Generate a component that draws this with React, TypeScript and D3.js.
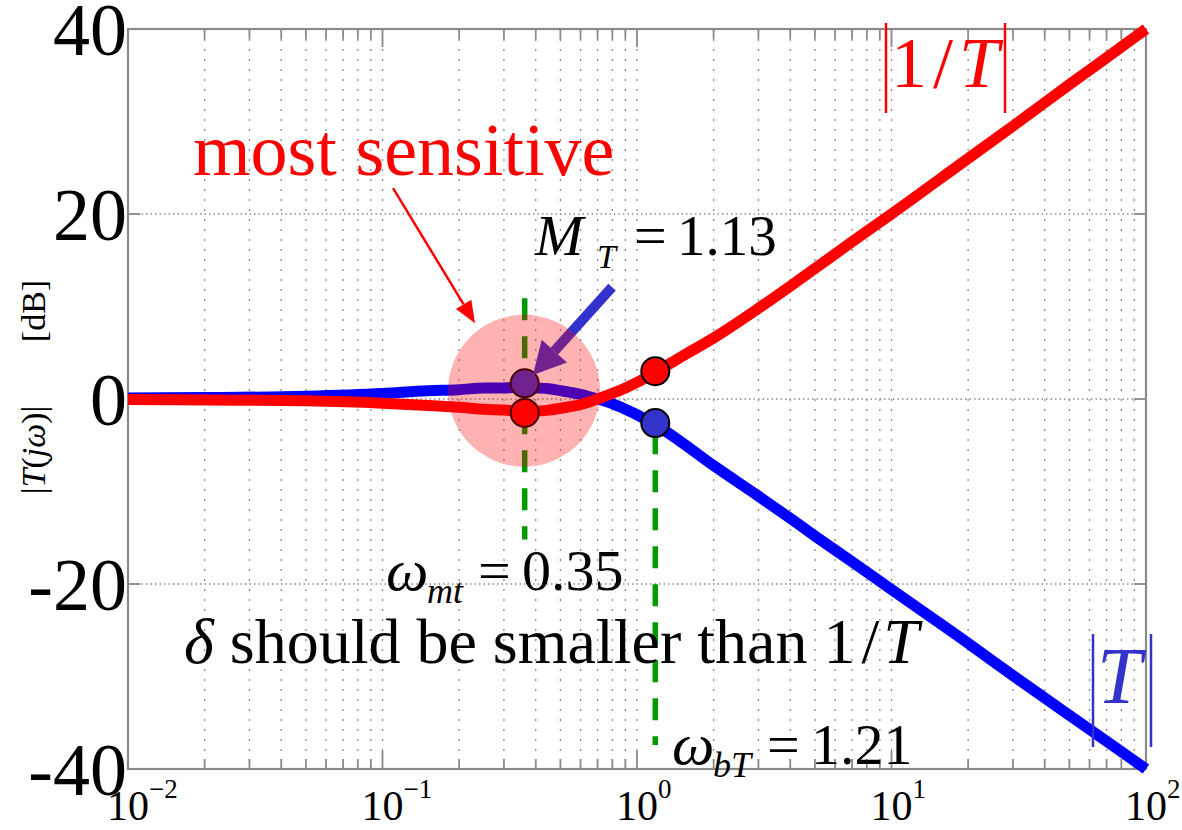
import React from "react";
import * as d3 from "d3";

// frequency grid (rad/s) and magnitudes in dB
const omega = [0.01, 0.02, 0.05, 0.1, 0.15, 0.2, 0.25, 0.3, 0.35, 0.4, 0.45, 0.5, 0.6, 0.7, 0.8, 0.9, 1.0, 1.2, 1.5, 2, 3, 4, 5, 7, 10, 20, 30, 50, 70, 100];
const magT = [0.1, 0.15, 0.3, 0.6, 0.9, 1.0, 1.2, 1.2, 1.3, 1.2, 1.1, 0.9, 0.5, 0.0, -0.5, -1.1, -1.7, -2.9, -4.7, -7.2, -10.5, -12.9, -14.8, -17.6, -20.6, -26.4, -29.9, -34.2, -37.0, -40];
const magInvT = [-0.05, -0.1, -0.2, -0.45, -0.7, -0.9, -1.1, -1.2, -1.3, -1.3, -1.2, -1.0, -0.6, 0.0, 0.6, 1.2, 1.8, 3.0, 4.6, 6.6, 9.8, 12.2, 14.1, 17.0, 20.0, 26.0, 29.5, 34.0, 36.9, 40];

// highlighted points
const markOmega = [0.362, 0.362, 1.18, 1.18];
const markDb = [1.7, -1.5, 3.0, -2.6];
const markSeries = ["T", "invT", "invT", "T"];

// green dashed markers: omega, dB from, dB to
const guideOmega = [0.362, 1.18];
const guideFrom = [10.9, -3.6];
const guideTo = [-15.2, -37.4];

// annotation anchors in data space
const circleCenter = [0.36, 0.9];
const redArrow = [[0.11, 22.8], [0.231, 8.2]];
const blueArrow = [[0.798, 12.1], [0.39, 2.6]];

const xDecades = [0.01, 0.1, 1, 10, 100];
const xExponents = ["\u22122", "\u22121", "0", "1", "2"];
const yTicks = [40, 20, 0, -20, -40];
const yTickLabels = ["40", "20", "0", "-20", "-40"];

const serif = "Liberation Serif, Times New Roman, serif";
const RED = "#ff0000";
const BLUE = "#0000ff";
const BLUE_TXT = "#3333cc";
const GREEN = "#009900";
const AXIS = "#8a8a8a";

const left = 128, right = 1146, top = 29, bottom = 769;

function arrowHead(p0: number[], p1: number[], len: number, half: number) {
  const dx = p1[0] - p0[0], dy = p1[1] - p0[1];
  const d = Math.hypot(dx, dy);
  const ux = dx / d, uy = dy / d;
  const bx = p1[0] - ux * len, by = p1[1] - uy * len;
  return {
    base: [bx, by],
    pts: `${p1[0]},${p1[1]} ${bx - uy * half},${by + ux * half} ${bx + uy * half},${by - ux * half}`,
  };
}

export default function App() {
  const x = d3.scaleLog().domain([0.01, 100]).range([left, right]);
  const y = d3.scaleLinear().domain([-40, 40]).range([bottom, top]);

  const line = d3
    .line<number>()
    .x((_, i) => x(omega[i]))
    .y((d) => y(d))
    .curve(d3.curveMonotoneX);

  const allTicks = x.ticks();
  const isMajor = (t: number) => Math.abs(Math.log10(t) - Math.round(Math.log10(t))) < 1e-6;

  const ra0 = [x(redArrow[0][0]), y(redArrow[0][1])];
  const ra1 = [x(redArrow[1][0]), y(redArrow[1][1])];
  const raHead = arrowHead(ra0, ra1, 22, 9);
  const ba0 = [x(blueArrow[0][0]), y(blueArrow[0][1])];
  const ba1 = [x(blueArrow[1][0]), y(blueArrow[1][1])];
  const baHead = arrowHead(ba0, ba1, 32, 17);

  const tx = { fontFamily: serif };

  return (
    <svg
      width={1182}
      height={830}
      style={{ position: "absolute", left: 0, top: 0, background: "#fff", fontFamily: serif }}
    >
      {/* grid */}
      <g stroke={AXIS} strokeWidth={1.3} fill="none">
        {allTicks.map((t, i) => (
          <line key={"gx" + i} x1={x(t)} x2={x(t)} y1={top} y2={bottom} strokeDasharray="2,8" />
        ))}
        {yTicks.filter((v) => v > -40 && v < 40).map((v) => (
          <line key={"gy" + v} x1={left} x2={right} y1={y(v)} y2={y(v)} strokeDasharray="1.5,3" />
        ))}
      </g>
      {/* ticks */}
      <g stroke={AXIS} strokeWidth={1.8}>
        {allTicks.map((t, i) => {
          const len = isMajor(t) ? 18 : 10;
          return (
            <g key={"tx" + i}>
              <line x1={x(t)} x2={x(t)} y1={bottom} y2={bottom - len} />
              <line x1={x(t)} x2={x(t)} y1={top} y2={top + len} />
            </g>
          );
        })}
        {yTicks.map((v) => (
          <g key={"ty" + v}>
            <line x1={left} x2={left + 12} y1={y(v)} y2={y(v)} />
            <line x1={right} x2={right - 12} y1={y(v)} y2={y(v)} />
          </g>
        ))}
      </g>
      <rect x={left} y={top} width={right - left} height={bottom - top} fill="none" stroke={AXIS} strokeWidth={2.2} />

      {/* curves */}
      <path d={line(magT) || ""} fill="none" stroke={BLUE} strokeWidth={11} strokeLinejoin="round" />
      <path d={line(magInvT) || ""} fill="none" stroke={RED} strokeWidth={11} strokeLinejoin="round" />

      {/* green guides */}
      {guideOmega.map((w, i) => (
        <line
          key={"gd" + i}
          x1={x(w)}
          x2={x(w)}
          y1={y(guideFrom[i])}
          y2={y(guideTo[i])}
          stroke={GREEN}
          strokeWidth={5.5}
          strokeDasharray="22,16"
        />
      ))}

      {/* markers */}
      {markOmega.map((w, i) => (
        <circle
          key={"mk" + i}
          cx={x(w)}
          cy={y(markDb[i])}
          r={14}
          fill={markSeries[i] === "T" ? BLUE_TXT : RED}
          stroke="#000"
          strokeWidth={2}
        />
      ))}

      {/* arrows */}
      <line x1={ra0[0]} y1={ra0[1]} x2={raHead.base[0]} y2={raHead.base[1]} stroke={RED} strokeWidth={2.5} />
      <polygon points={raHead.pts} fill={RED} />
      <line x1={ba0[0]} y1={ba0[1]} x2={baHead.base[0]} y2={baHead.base[1]} stroke={BLUE_TXT} strokeWidth={10} />
      <polygon points={baHead.pts} fill={BLUE_TXT} />

      {/* sensitive region */}
      <circle cx={x(circleCenter[0])} cy={y(circleCenter[1])} r={76} fill={RED} fillOpacity={0.3} />

      {/* y tick labels */}
      {yTicks.map((v, i) => (
        <text key={"yl" + v} x={127} y={y(v) + 26} textAnchor="end" fontSize={74} style={tx}>
          {yTickLabels[i]}
        </text>
      ))}
      {/* x tick labels */}
      {xDecades.map((d, i) => (
        <g key={"xl" + i}>
          <text x={x(d)} y={820} textAnchor="middle" fontSize={42} style={tx}>
            10
          </text>
          <text x={x(d) + 21} y={798} fontSize={27} style={tx}>
            {xExponents[i]}
          </text>
        </g>
      ))}

      {/* y label */}
      <text transform="translate(45,450) rotate(-90)" textAnchor="middle" fontSize={34} style={tx}>
        |<tspan fontStyle="italic">T</tspan>(<tspan fontStyle="italic">j&#969;</tspan>)|
      </text>
      <text transform="translate(45,311) rotate(-90)" textAnchor="middle" fontSize={34} style={tx}>
        [dB]
      </text>

      {/* annotations */}
      <text x={193} y={175} fontSize={74} fill={RED} style={tx}>
        most sensitive
      </text>

      <text x={535} y={255} fontSize={58} fontStyle="italic" style={tx}>M</text>
      <text x={597} y={268} fontSize={34} fontStyle="italic" style={tx}>T</text>
      <text x={634} y={255} fontSize={58} style={tx}>=</text>
      <text x={677} y={255} fontSize={57} style={tx}>1.13</text>

      <text x={386} y={590} fontSize={60} fontStyle="italic" style={tx}>&#969;</text>
      <text x={427} y={603} fontSize={36} fontStyle="italic" style={tx}>mt</text>
      <text x={478} y={590} fontSize={58} style={tx}>=</text>
      <text x={522} y={590} fontSize={58} style={tx}>0.35</text>

      <text x={672} y={764} fontSize={60} fontStyle="italic" style={tx}>&#969;</text>
      <text x={713} y={777} fontSize={36} fontStyle="italic" style={tx}>bT</text>
      <text x={767} y={764} fontSize={58} style={tx}>=</text>
      <text x={811} y={764} fontSize={58} style={tx}>1.21</text>

      <text x={184} y={663} fontSize={64} style={tx}>
        <tspan fontStyle="italic">&#948;</tspan> should be smaller than 1<tspan dx={6}>/</tspan>
        <tspan dx={4} fontStyle="italic">T</tspan>
      </text>

      {/* |1/T| label */}
      <line x1={886} x2={886} y1={23} y2={113} stroke={RED} strokeWidth={2.5} />
      <line x1={1005} x2={1005} y1={23} y2={113} stroke={RED} strokeWidth={2.5} />
      <text x={891} y={87} fontSize={72} fill={RED} style={tx}>
        1<tspan dx={6}>/</tspan>
        <tspan dx={6} fontStyle="italic">T</tspan>
      </text>

      {/* |T| label */}
      <line x1={1093} x2={1093} y1={634} y2={747} stroke={BLUE_TXT} strokeWidth={2.5} />
      <line x1={1151} x2={1151} y1={634} y2={747} stroke={BLUE_TXT} strokeWidth={2.5} />
      <text x={1097} y={703} fontSize={80} fill={BLUE_TXT} fontStyle="italic" style={tx}>
        T
      </text>
    </svg>
  );
}
